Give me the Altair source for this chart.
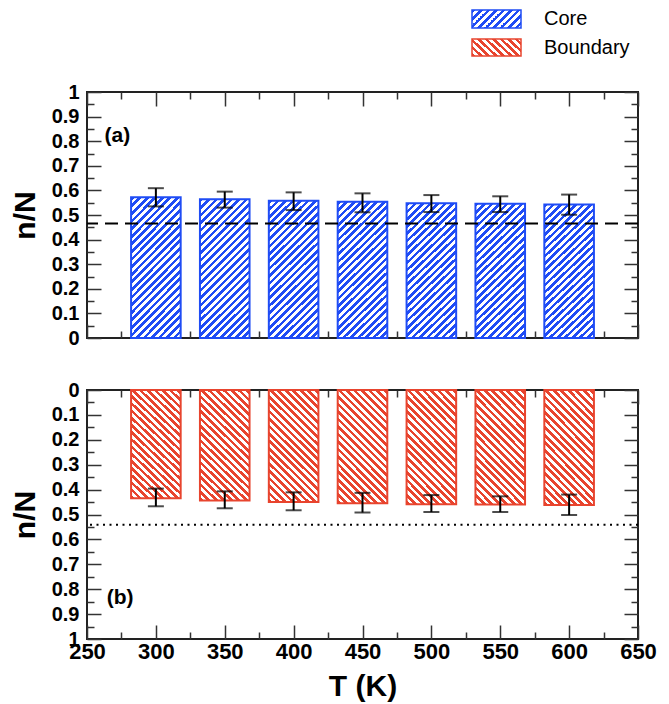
import altair as alt
import pandas as pd

# ---------------- data ----------------
temps = [300, 350, 400, 450, 500, 550, 600]
core = [0.572, 0.564, 0.558, 0.554, 0.548, 0.546, 0.543]
core_lo = [0.535, 0.530, 0.520, 0.511, 0.512, 0.512, 0.501]
core_hi = [0.609, 0.595, 0.592, 0.588, 0.581, 0.576, 0.583]
boundary = [0.435, 0.444, 0.450, 0.455, 0.459, 0.460, 0.462]
boundary_lo = [0.396, 0.407, 0.411, 0.413, 0.422, 0.427, 0.420]
boundary_hi = [0.467, 0.475, 0.483, 0.492, 0.490, 0.490, 0.502]
core_ref = [0.465]
boundary_ref = [0.541]
x_tick_values = [250, 275, 300, 325, 350, 375, 400, 425, 450, 475, 500,
                 525, 550, 575, 600, 625, 650]
y_tick_values = [0, 0.05, 0.1, 0.15, 0.2, 0.25, 0.3, 0.35, 0.4, 0.45, 0.5,
                 0.55, 0.6, 0.65, 0.7, 0.75, 0.8, 0.85, 0.9, 0.95, 1]
legend_labels = ["Core", "Boundary"]
panel_labels = ["(a)", "(b)"]
panel_label_x = [272, 274]
panel_label_y = [0.82, 0.835]

# ---------------- style ----------------
BLUE = "#1f4cf5"
RED = "#e8442e"
FONT = "Liberation Sans"
W = 551
H_TOP = 246
H_BOT = 249
HALF = 18          # bar half width in K
MAJOR, MINOR = -14, -7
TICK_COLOR = "#333333"


def stripes(color, w, h, period, direction):
    """Hatch pattern as a linear gradient with hard stops (45 deg stripes)."""
    a = (w + h) * w / (w * w + h * h)
    b = (w + h) * h / (w * w + h * h)
    p = period / (w + h)
    stops = []
    k = 0
    while k * p < 1:
        s = k * p
        m = min(s + p * 0.5, 1)
        e = min(s + p, 1)
        stops += [alt.GradientStop(offset=s, color=color),
                  alt.GradientStop(offset=m, color=color),
                  alt.GradientStop(offset=m, color="white"),
                  alt.GradientStop(offset=e, color="white")]
        k += 1
    if direction == "/":
        return alt.LinearGradient(gradient="linear", stops=stops,
                                  x1=0, y1=0, x2=a, y2=b)
    return alt.LinearGradient(gradient="linear", stops=stops,
                              x1=0, y1=1, x2=a, y2=1 - b)


bar_w_px = 2 * HALF * W / 400
grad_core = stripes(BLUE, bar_w_px, 139, 7.5, "/")
grad_bound = stripes(RED, bar_w_px, 113, 7.5, "\\")
grad_core_leg = stripes(BLUE, 49, 18, 7.5, "/")
grad_bound_leg = stripes(RED, 49, 18, 7.5, "\\")

x_scale = alt.Scale(domain=[250, 650], nice=False, zero=False)


def x_axis(orient, labels):
    kw = dict(orient=orient, values=x_tick_values, grid=False, domain=False,
              tickSize={"condition": {"test": "datum.value % 50 != 0", "value": MINOR},
                        "value": MAJOR},
              tickColor=TICK_COLOR, tickWidth=1.5, labels=labels, title=None)
    if labels:
        kw.update(format="d", labelExpr="datum.value % 50 == 0 ? datum.label : ''",
                  labelFontSize=22, labelFontWeight="bold", labelColor="black",
                  labelPadding=16, labelFlush=False, labelOverlap=False,
                  title="T (K)", titleFontSize=30, titleFontWeight="bold",
                  titleColor="black", titlePadding=2)
    return alt.Axis(**kw)


def y_axis(orient, labels, h):
    kw = dict(orient=orient, values=y_tick_values, grid=False, domain=False,
              tickSize={"condition": {"test": "round(datum.value * 20) % 2 == 1",
                                      "value": MINOR},
                        "value": MAJOR},
              tickColor=TICK_COLOR, tickWidth=1.5, labels=labels, title=None)
    if labels:
        kw.update(format="~g",
                  labelExpr="round(datum.value * 20) % 2 == 1 ? '' : datum.label",
                  labelFontSize=20, labelFontWeight="bold", labelColor="black",
                  labelPadding=22, labelOverlap=False, labelFlush=False,
                  title="n/N", titleFontSize=30, titleFontWeight="bold",
                  titleColor="black", titleAngle=270, titleX=-62, titleY=h / 2,
                  titleBaseline="middle", titleAlign="center")
    return alt.Axis(**kw)


def panel(vals, lo, hi, ref, grad, color, reverse, h, dash, label_i, bottom_labels,
          legend=False):
    y_scale = alt.Scale(domain=[0, 1], nice=False, zero=True, reverse=reverse)
    df = pd.DataFrame({"T": temps, "v": vals, "lo": lo, "hi": hi})
    base = alt.Chart(df).transform_calculate(x0=f"datum.T - {HALF}",
                                             x1=f"datum.T + {HALF}", zero="0")
    bars = base.mark_bar(fill=grad, stroke=color, strokeWidth=2).encode(
        x=alt.X("x0:Q", scale=x_scale, axis=x_axis("bottom", bottom_labels)),
        x2="x1:Q",
        y=alt.Y("v:Q", scale=y_scale, axis=y_axis("left", True, h)),
        y2="zero:Q",
    )
    err = base.mark_rule(color="black", strokeWidth=2).encode(
        x=alt.X("T:Q", scale=x_scale, axis=x_axis("top", False)),
        y=alt.Y("lo:Q", scale=y_scale, axis=y_axis("right", False, h)),
        y2="hi:Q",
    )
    cap_lo = base.mark_tick(orient="horizontal", size=16, thickness=2,
                            color="black").encode(
        x=alt.X("T:Q", scale=x_scale, axis=None),
        y=alt.Y("lo:Q", scale=y_scale, axis=None),
    )
    cap_hi = base.mark_tick(orient="horizontal", size=16, thickness=2,
                            color="black").encode(
        x=alt.X("T:Q", scale=x_scale, axis=None),
        y=alt.Y("hi:Q", scale=y_scale, axis=None),
    )
    rdf = pd.DataFrame({"ref": ref})
    rule = alt.Chart(rdf).mark_rule(color="black", strokeWidth=2,
                                    strokeDash=dash).encode(
        y=alt.Y("ref:Q", scale=y_scale, axis=None))
    tdf = pd.DataFrame({"t": [panel_labels[label_i]], "x": [panel_label_x[label_i]],
                        "y": [panel_label_y[label_i]]})
    txt = alt.Chart(tdf).mark_text(fontSize=21, fontWeight="bold", color="black",
                                   font=FONT).encode(
        x=alt.X("x:Q", scale=x_scale, axis=None),
        y=alt.Y("y:Q", scale=y_scale, axis=None),
        text="t:N")
    layers = [bars, rule, err, cap_lo, cap_hi, txt]
    if legend:
        ldf = pd.DataFrame({"cat": legend_labels})
        items = [(legend_labels[0], grad_core_leg, BLUE, -82, -64),
                 (legend_labels[1], grad_bound_leg, RED, -53, -36)]
        for name, g, c, ya, yb in items:
            sub = alt.Chart(ldf).transform_filter(f"datum.cat == '{name}'")
            layers.append(sub.mark_rect(fill=g, stroke=c, strokeWidth=1.5).encode(
                x=alt.value(385), x2=alt.value(434), y=alt.value(ya), y2=alt.value(yb)))
            layers.append(sub.mark_text(align="left", baseline="middle", fontSize=20,
                                        color="black", font=FONT).encode(
                x=alt.value(457), y=alt.value((ya + yb) / 2), text="cat:N"))
    return alt.layer(*layers).properties(
        width=W, height=h,
        view=alt.ViewBackground(stroke="#222222", strokeWidth=2))


top = panel(core, core_lo, core_hi, core_ref, grad_core, BLUE, False, H_TOP,
            [13, 7], 0, False, legend=True)
bottom = panel(boundary, boundary_lo, boundary_hi, boundary_ref, grad_bound, RED,
               True, H_BOT, [2, 4.5], 1, True)

chart = alt.vconcat(top, bottom, spacing=30).properties(
    padding={"left": 1, "top": 0, "right": 0, "bottom": 0}
).configure(font=FONT).configure_view(strokeWidth=0)

chart.save("out.html", embed_options={"renderer": "svg", "actions": False})
